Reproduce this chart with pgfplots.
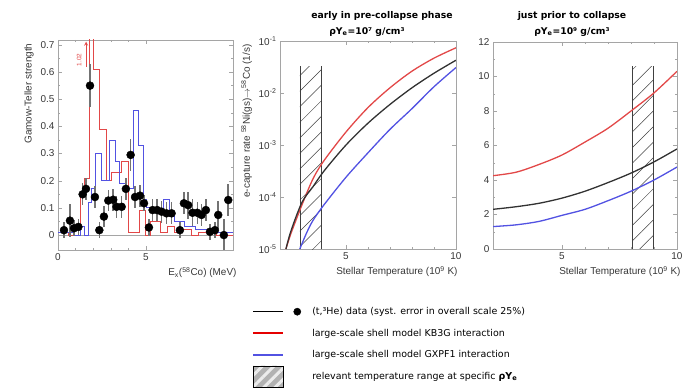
\documentclass[border=0pt]{standalone}
\usepackage{fontspec}
\setmainfont{Liberation Sans}
\newfontfamily\dejavu{DejaVu Sans}
\usepackage{pgfplots}
\pgfplotsset{compat=1.18}
\usetikzlibrary{patterns.meta}
\definecolor{myred}{RGB}{226,72,72}
\definecolor{myblue}{RGB}{82,82,226}
\definecolor{framec}{RGB}{165,165,165}
\definecolor{tickc}{RGB}{55,55,55}
\definecolor{mydark}{RGB}{50,50,50}

\pgfplotsset{
  base/.style={
    scale only axis, anchor=south west,
    axis line style={framec},
    every tick/.style={framec},
    tick align=inside,
    major tick length=4bp, minor tick length=2.2bp,
    tick label style={font=\fontsize{10}{12}\selectfont, text=tickc},
    label style={font=\fontsize{10}{12}\selectfont, text=tickc},
    /pgf/number format/assume math mode=true,
  }
}

\begin{document}
\begin{tikzpicture}
\path[use as bounding box] (0bp,0bp) rectangle (684bp,391bp);

%% ---------------- left panel ----------------
\begin{axis}[base, at={(58bp,141bp)}, width=175bp, height=210bp,
  xmin=0, xmax=9.95, ymin=-0.055, ymax=0.718,
  xtick={0,5}, minor x tick num=4,
  ytick={0,0.1,0.2,0.3,0.4,0.5,0.6,0.7},
  yticklabels={0,0.1,0.2,0.3,0.4,0.5,0.6,0.7},
  minor y tick num=1,
  xlabel={E\textsubscript{x}(\textsuperscript{58}Co) (MeV)},
  xlabel style={at={(ticklabel cs:1)}, anchor=north east, xshift=7bp},
  ylabel={Gamow-Teller strength},
  ylabel style={at={(ticklabel cs:1)}, anchor=south east},
]
\addplot[framec, line width=0.6bp] coordinates {(0,0) (9.95,0)};
\addplot[myred, const plot, line width=0.9bp] coordinates {
(0,0.01)(0.6,0)(1.25,0.15)(1.5,0.21)(1.78,1.02)(2.0,0.61)(2.35,0.39)(2.77,0.2)
(3.05,0.23)(3.6,0.27)(4.0,0.01)(4.65,0.09)(4.95,0.0)(5.25,0.05)(5.8,0.01)
(6.2,0.03)(6.6,0.01)(7.0,0.02)(7.6,0.0)(8.0,0.01)(9.0,0.0)(9.95,0.0)};
\addplot[myblue, const plot, line width=0.9bp] coordinates {
(0,0.01)(0.9,0.0)(1.25,0.03)(1.5,0.0)(1.72,0.12)(1.9,0.17)(2.15,0.30)(2.45,0.2)
(2.95,0.35)(3.24,0.27)(3.5,0.19)(3.9,0.17)(4.28,0.46)(4.56,0.33)(4.85,0.13)
(5.04,0.1)(5.7,0.08)(6.0,0.13)(6.36,0.07)(6.6,0.05)(7.2,0.03)(7.8,0.02)
(8.5,0.01)(9.95,0.01)};
\addplot[only marks, mark=*, mark size=4bp, black,
  error bars/.cd, y dir=both, y explicit,
  error bar style={line width=1.6bp, black!55}, error mark=none]
coordinates {
(0.34,0.018) +- (0,0.03)
(0.68,0.053) +- (0,0.06)
(0.91,0.025) +- (0,0.03)
(1.16,0.03) +- (0,0.03)
(1.4,0.15) +- (0,0.04)
(1.59,0.17) +- (0,0.04)
(1.82,0.55) +- (0,0.08)
(2.1,0.14) +- (0,0.04)
(2.35,0.018) +- (0,0.03)
(2.61,0.068) +- (0,0.04)
(2.86,0.127) +- (0,0.04)
(3.14,0.13) +- (0,0.04)
(3.33,0.104) +- (0,0.04)
(3.62,0.104) +- (0,0.04)
(3.86,0.17) +- (0,0.04)
(4.13,0.295) +- (0,0.06)
(4.38,0.14) +- (0,0.04)
(4.66,0.145) +- (0,0.04)
(4.89,0.117) +- (0,0.03)
(5.17,0.028) +- (0,0.03)
(5.38,0.092) +- (0,0.04)
(5.64,0.092) +- (0,0.04)
(5.89,0.086) +- (0,0.04)
(6.17,0.08) +- (0,0.04)
(6.46,0.08) +- (0,0.04)
(6.93,0.018) +- (0,0.03)
(7.16,0.117) +- (0,0.04)
(7.4,0.11) +- (0,0.05)
(7.65,0.082) +- (0,0.05)
(7.92,0.082) +- (0,0.04)
(8.16,0.074) +- (0,0.04)
(8.41,0.092) +- (0,0.04)
(8.64,0.012) +- (0,0.03)
(8.92,0.018) +- (0,0.03)
(9.11,0.074) +- (0,0.05)
(9.43,0.0) +- (0,0.06)
(9.68,0.129) +- (0,0.06)
};
\draw[myred, ->, >=stealth, line width=0.8bp] (axis cs:1.6,0.62) -- (axis cs:1.6,0.712);
\node[myred, rotate=90, font=\fontsize{6.5}{7}\selectfont] at (axis cs:1.2,0.645) {1.02};
\end{axis}

%% ---------------- middle panel ----------------
\begin{axis}[base, at={(280bp,142bp)}, width=176bp, height=208bp,
  ymode=log, xmin=2, xmax=10, ymin=1e-5, ymax=1e-1,
  xtick={5,10}, minor x tick num=4,
  ytick={1e-5,1e-4,1e-3,1e-2,1e-1},
  yticklabels={10\textsuperscript{-5},10\textsuperscript{-4},10\textsuperscript{-3},10\textsuperscript{-2},10\textsuperscript{-1}},
  yminorticks=false,
  xlabel={Stellar Temperature (10\textsuperscript{9} K)},
  xlabel style={at={(ticklabel cs:1)}, anchor=north east, xshift=5bp},
  ylabel={e-capture rate \textsuperscript{58}Ni(gs)$\rightarrow$\textsuperscript{58}Co (1/s)},
  ylabel style={at={(ticklabel cs:1)}, anchor=south east},
  legend style={at={(-0.153,-0.27)}, anchor=north west, draw=none, fill=none,
    inner sep=0pt, font=\dejavu\fontsize{9.5}{11}\selectfont, row sep=9bp,
    /tikz/every odd column/.append style={column sep=9bp}},
  legend cell align=left,
]
\addplot[forget plot, draw=none, pattern={Lines[angle=45,distance=11bp,line width=0.5bp]}, pattern color=black!75]
  coordinates {(2.9,1e-5) (2.9,3.3e-2) (3.88,3.3e-2) (3.88,1e-5)} -- cycle;
\addplot[forget plot, black!75, line width=0.6bp] coordinates {(2.9,1e-5) (2.9,3.3e-2)};
\addplot[forget plot, black!75, line width=0.6bp] coordinates {(3.88,1e-5) (3.88,3.3e-2)};
\addplot[forget plot, myred, line width=1.3bp, smooth] coordinates {
(2.27,1.0e-5)(2.5,2.0e-5)(3,7.08e-5)(3.5,2.24e-4)(4,5.01e-4)(5,1.78e-3)
(6,5.25e-3)(7,1.26e-2)(8,2.63e-2)(9,4.68e-2)(10,7.41e-2)};
\addplot[forget plot, mydark, line width=1.3bp, smooth] coordinates {
(2.27,1.0e-5)(2.5,2.24e-5)(3,7.94e-5)(3.5,1.58e-4)(4,3.16e-4)(5,1.0e-3)
(6,2.63e-3)(7,6.03e-3)(8,1.26e-2)(9,2.40e-2)(10,4.27e-2)};
\addplot[forget plot, myblue, line width=1.3bp, smooth] coordinates {
(2.9,1.0e-5)(3.2,2.0e-5)(3.5,3.55e-5)(4,7.08e-5)(5,2.40e-4)(6,7.08e-4)
(7,2.0e-3)(8,5.01e-3)(9,1.32e-2)(10,3.09e-2)};
\addlegendimage{legend image code/.code={
  \path[draw=none, use as bounding box] (0bp,-4bp) rectangle (48bp,4bp);
  \draw[black, line width=1.2bp] (0bp,0bp) -- (30bp,0bp);
  \fill[black] (44bp,0bp) circle (3.6bp);}}
\addlegendentry{(t,³He) data (syst. error in overall scale 25\%)}
\addlegendimage{legend image code/.code={
  \path[draw=none, use as bounding box] (0bp,-4bp) rectangle (48bp,4bp);
  \draw[red!90!black, line width=1.5bp] (0bp,0.2bp) -- (30bp,0.2bp);}}
\addlegendentry{large-scale shell model KB3G interaction}
\addlegendimage{legend image code/.code={
  \path[draw=none, use as bounding box] (0bp,-4bp) rectangle (48bp,4bp);
  \draw[myblue, line width=1.5bp] (0bp,0.2bp) -- (30bp,0.2bp);}}
\addlegendentry{large-scale shell model GXPF1 interaction}
\addlegendimage{legend image code/.code={
  \path[draw=none, use as bounding box] (0bp,-4bp) rectangle (48bp,4bp);
  \fill[gray!60] (0bp,-10bp) rectangle (30bp,11bp);
  \fill[pattern={Lines[angle=45,distance=8bp,line width=3bp]}, pattern color=white!85!gray] (0bp,-10bp) rectangle (30bp,11bp);}}
\addlegendentry{relevant temperature range at specific \textbf{ρY\textsubscript{e}}}
\end{axis}

%% ---------------- right panel ----------------
\begin{axis}[base, at={(493bp,142bp)}, width=184bp, height=207bp,
  xmin=2, xmax=10, ymin=0, ymax=12,
  xtick={5,10}, minor x tick num=4,
  ytick={0,2,4,6,8,10,12}, minor y tick num=1,
  xlabel={Stellar Temperature (10\textsuperscript{9} K)},
  xlabel style={at={(ticklabel cs:1)}, anchor=north east, xshift=7bp},
]
\addplot[draw=none, pattern={Lines[angle=45,distance=11bp,line width=0.5bp]}, pattern color=black!75]
  coordinates {(8.05,0) (8.05,10.6) (8.97,10.6) (8.97,0)} -- cycle;
\addplot[black!75, line width=0.6bp] coordinates {(8.05,0) (8.05,10.6)};
\addplot[black!75, line width=0.6bp] coordinates {(8.97,0) (8.97,10.6)};
\addplot[myred, line width=1.3bp, smooth] coordinates {
(2,4.25)(3,4.45)(4,4.9)(5,5.45)(6,6.2)(7,7.0)(8,8.0)(9,9.05)(10,10.3)};
\addplot[mydark, line width=1.3bp, smooth] coordinates {
(2,2.3)(3,2.45)(4,2.65)(5,2.95)(6,3.35)(7,3.85)(8,4.4)(9,5.05)(10,5.8)};
\addplot[myblue, line width=1.3bp, smooth] coordinates {
(2,1.3)(3,1.4)(4,1.6)(5,1.95)(6,2.3)(7,2.8)(8,3.35)(9,4.0)(10,4.75)};
\end{axis}

%% titles
\node[font=\dejavu\bfseries\fontsize{9.3}{11}\selectfont] at (382bp,375bp) {early in pre-collapse phase};
\node[font=\dejavu\bfseries\fontsize{9.3}{11}\selectfont] at (367bp,359bp) {ρY\textsubscript{e}=10⁷ g/cm³};
\node[font=\dejavu\bfseries\fontsize{9.3}{11}\selectfont] at (572bp,375bp) {just prior to collapse};
\node[font=\dejavu\bfseries\fontsize{9.3}{11}\selectfont] at (572bp,359bp) {ρY\textsubscript{e}=10⁹ g/cm³};
\end{tikzpicture}
\end{document}
